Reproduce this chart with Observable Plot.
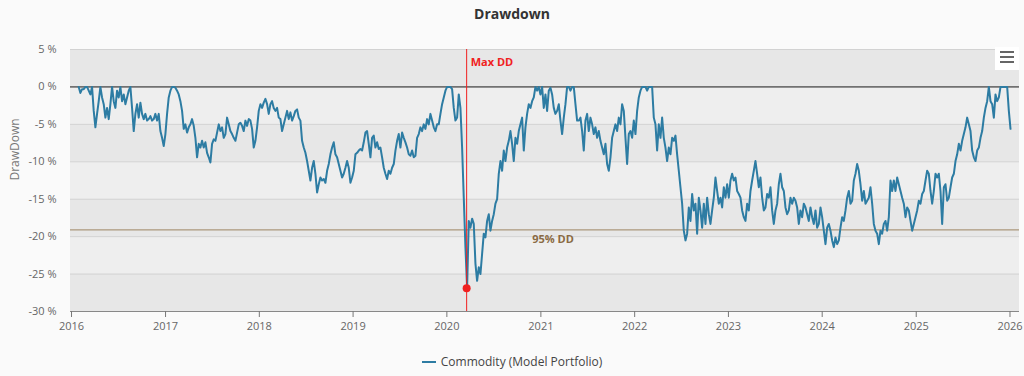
<!DOCTYPE html>
<html>
<head>
<meta charset="utf-8">
<script src="https://cdn.jsdelivr.net/npm/d3@7"></script>
<script src="https://cdn.jsdelivr.net/npm/@observablehq/plot@0.6"></script>
<style>
  html, body { margin: 0; padding: 0; background: #fafafa; }
  #wrap { position: relative; width: 1024px; height: 376px; font-family: "Open Sans", sans-serif; overflow: hidden; }
  #title { position: absolute; left: 0; top: 3px; width: 1024px; text-align: center; font-weight: bold; font-size: 14px; color: #333; line-height: 22px; }
  #chart { position: absolute; left: 0; top: 30px; }
  #legend { position: absolute; left: 0; top: 352px; width: 1024px; display: flex; justify-content: center; align-items: center; font-size: 12px; color: #444; line-height: 20px; }
  #legend .sw { width: 14px; height: 2px; background: #2d7ca3; margin-right: 5px; }
  #menu { position: absolute; left: 995px; top: 47px; width: 24px; height: 23px; background: #fff; }
  #menu span { position: absolute; left: 5px; width: 14px; height: 2px; background: #666; }
</style>
</head>
<body>
<div id="wrap">
  <div id="title">Drawdown</div>
  <div id="chart"></div>
  <div id="legend"><div class="sw"></div><div>Commodity (Model Portfolio)</div></div>
  <div id="menu"><span style="top:4px"></span><span style="top:9px"></span><span style="top:14px"></span></div>
</div>
<script>
// Drawdown readings (%), evenly spaced samples between firstDate and lastDate
const ddValues = [
  0, -0.8, -0.3, -0.3, 0, 0, -0.5, -1.0, 0, -3.2,
  -5.4, -3.6, -1.9, 0, -1.4, -2.3, -4.1, -2.8, -4.3, -2.3,
  0, -1.9, -2.8, -0.5, -1.4, 0, -1.9, -1.0, -2.3, -1.4,
  -0.5, 0, -2.8, -5.9, -3.6, -2.3, -4.1, -2.1, -3.6, -4.3,
  -3.6, -4.5, -4.3, -3.9, -4.5, -4.3, -3.6, -4.5, -3.6, -5.9,
  -6.8, -7.9, -6.3, -3.6, -1.4, -0.5, 0, 0, -0.1, -0.5,
  -1.0, -1.9, -3.2, -5.6, -5.0, -6.1, -5.4, -5.0, -4.3, -5.2,
  -6.8, -9.4, -7.6, -8.1, -7.2, -8.1, -7.4, -8.8, -9.4, -10.1,
  -7.6, -7.0, -7.2, -6.1, -5.0, -5.9, -5.4, -6.8, -6.3, -4.1,
  -5.0, -5.9, -6.3, -6.8, -7.2, -6.1, -5.0, -4.8, -5.2, -5.9,
  -4.5, -5.2, -4.3, -4.5, -5.6, -8.1, -7.2, -5.4, -3.2, -2.3,
  -2.8, -2.1, -1.6, -2.3, -3.6, -2.3, -1.9, -2.8, -3.2, -2.8,
  -4.1, -4.3, -5.9, -5.0, -4.1, -3.2, -4.3, -3.4, -4.5, -3.9,
  -3.2, -3.0, -4.1, -4.5, -7.2, -8.1, -8.8, -9.9, -11.2, -12.5,
  -10.8, -9.9, -11.6, -14.1, -13.0, -12.1, -12.5, -12.3, -12.8, -11.2,
  -10.3, -9.0, -8.1, -7.4, -9.0, -9.4, -10.3, -11.2, -12.1, -11.6,
  -10.8, -9.9, -10.8, -12.8, -12.1, -11.2, -9.0, -8.8, -8.5, -8.3,
  -8.5, -7.4, -6.1, -5.9, -7.6, -9.4, -6.8, -6.5, -8.1, -7.4,
  -8.3,
  -8.1, -9.4, -10.8, -11.6, -12.3, -11.2, -11.6, -10.8, -10.3, -8.5,
  -7.2, -6.3, -8.1, -6.1, -6.8, -7.4, -8.1, -9.0, -9.2, -8.5,
  -9.4, -9.2, -6.8, -6.3, -5.4, -5.9, -5.0, -5.6, -4.3, -5.0,
  -3.6, -4.5, -5.4, -5.9, -5.0, -5.0, -3.6, -2.3, -1.4, -0.5,
  0, 0, 0, -0.3, -2.8, -4.5, -4.1, -1.0,
  -2.8, -8.1, -14.8, -21.4, -26.9, -17.9, -18.8, -17.6, -18.3, -23.6,
  -25.9, -24.1, -25.0, -22.3, -19.6, -20.1, -17.9, -17.0, -19.2, -17.9,
  -17.0, -15.6, -15.0, -11.6, -9.9, -11.2, -8.5, -9.9, -8.1, -7.2,
  -5.9, -7.6, -9.9, -6.8, -7.6, -5.9, -5.0, -4.1, -8.5, -5.4,
  -3.6, -2.3, -2.8, -1.9, -1.4, 0, -0.5, 0, -1.0, 0,
  -2.8, -1.0, -3.2, -0.5, -0.1, -1.0, -2.8, -3.6,
  -3.2, -2.3, -4.5, -6.3, -4.1, -2.3, 0, 0, -0.5, 0,
  0, -2.3, -4.5, -4.5, -4.1, -5.9, -8.5, -4.5, -3.6, -5.9,
  -4.1, -5.0, -6.3, -5.4, -6.8, -5.9, -7.2, -8.1, -9.0, -7.6,
  -10.3, -11.2, -9.4, -6.8, -5.9, -5.0, -5.9, -4.1, -5.0, -2.3,
  -3.2, -6.8, -10.3, -6.3, -5.9, -6.8, -4.5, -6.3, -3.2, -1.4,
  -0.5, 0, 0, 0, -0.5, 0, 0, 0, -4.1, -5.0,
  -8.5, -5.0, -6.8,
  -4.1, -6.8, -8.1, -9.9, -8.1, -9.0, -6.8, -7.2, -6.5, -9.0,
  -11.2, -13.4, -15.6, -19.2, -20.5, -19.6, -16.1, -17.9, -14.3, -16.5,
  -15.6, -19.6, -14.8, -16.5, -18.8, -15.6, -18.3, -14.8, -17.0, -18.3,
  -16.5, -14.8, -12.1, -13.9, -15.6, -14.8, -16.1, -13.4, -14.8, -13.0,
  -14.8, -12.5, -11.6, -12.5, -12.1, -13.9, -14.3, -14.8, -16.5, -17.4,
  -17.9, -15.6, -16.5, -13.9, -12.5, -11.2, -9.9, -11.6, -13.4, -12.1,
  -14.8, -16.5, -16.1, -14.3, -14.8, -13.4, -16.5, -18.3, -16.5, -15.6,
  -13.0, -11.6, -13.4, -13.9, -16.1, -17.0, -16.5, -14.8, -15.6, -14.8,
  -15.2, -16.1, -18.3, -16.5, -17.4, -15.6, -16.1, -17.0, -17.9, -16.1,
  -17.4, -18.3, -16.5, -18.8, -18.3, -16.1, -17.4, -19.2, -21.0, -18.8,
  -18.3, -19.2, -20.5, -21.4, -20.1, -21.0, -20.5, -18.8, -17.4, -17.9,
  -16.5, -14.8, -13.9, -15.6, -15.2, -12.5, -11.6, -10.3, -11.2, -13.0,
  -15.2, -13.9, -15.6, -15.2, -14.8, -13.4, -15.6, -18.3, -19.2, -19.6,
  -21.0, -19.2, -19.6, -18.3, -17.9, -19.2, -17.4, -12.5, -13.9, -12.5,
  -13.9, -12.1, -13.0, -13.9, -14.8, -15.6, -17.4, -16.1, -16.5, -17.9,
  -19.2, -18.3, -17.4, -16.5, -15.2, -15.6, -14.3, -13.9, -12.5, -11.2,
  -11.6, -13.9, -15.6, -13.9, -11.6, -12.1, -11.6, -13.9, -18.3, -13.4,
  -13.0, -15.2, -14.8, -13.4, -12.1, -11.6, -9.9, -9.0, -7.6, -8.5,
  -7.2, -6.3, -5.4, -4.1, -5.0, -5.9, -8.5, -9.4, -9.9, -8.5,
  -8.1, -6.8, -5.9, -4.1, -2.8, -1.9, 0, -1.9, -2.3, -4.1,
  -1.0, -1.9, -1.4, 0, 0, 0, 0, 0, -3.2, -5.6
];
const firstDate = "2016-01-29";
const lastDate = "2026-01-03";

const seriesName = "Commodity (Model Portfolio)";
const maxDDDate = "2020-03-18";
const maxDDValue = -26.9;
const dd95Value = -19.1;
const dd95LabelDate = "2020-11-28";

const yTicks = [5, 0, -5, -10, -15, -20, -25, -30];
const xTickYears = [2016, 2017, 2018, 2019, 2020, 2021, 2022, 2023, 2024, 2025, 2026];
const xDomain = ["2015-12-28", "2026-02-07"];

// build table
const t0 = new Date(firstDate), t1 = new Date(lastDate);
const n = ddValues.length;
const series = ddValues.map((v, i) => ({date: new Date(+t0 + (t1 - t0) * i / (n - 1)), dd: v}));
const xTicks = xTickYears.map(y => new Date(Date.UTC(y, 0, 1)));
const bands = d3.pairs(yTicks).map(([a, b], i) => ({top: a, bottom: b, dark: i % 2 === 0}));
const xd = xDomain.map(d => new Date(d));

const lineColor = "#2d7ca3";
const red = "#f02020";

const chart = Plot.plot({
  width: 1024,
  height: 311,
  marginTop: 19,
  marginBottom: 30,
  marginLeft: 70,
  marginRight: 5,
  style: {fontFamily: "'Open Sans', sans-serif", fontSize: "11px", color: "#666", background: "transparent", overflow: "visible"},
  x: {type: "utc", domain: xd},
  y: {domain: [-30, 5]},
  marks: [
    Plot.rect(bands, {x1: () => xd[0], x2: () => xd[1], y1: "top", y2: "bottom", fill: d => d.dark ? "#e7e7e7" : "#eeeeee"}),
    Plot.ruleY(yTicks, {stroke: "#d2d2d2", strokeWidth: 1}),
    Plot.ruleY([0], {stroke: "#222", strokeWidth: 1}),
    Plot.ruleY([dd95Value], {stroke: "#9c8462", strokeWidth: 1}),
    Plot.ruleY([-30], {stroke: "#888", strokeWidth: 1}),
    Plot.axisX({ticks: xTicks, tickFormat: d3.utcFormat("%Y"), tickSize: 6, tickPadding: 5, stroke: "#777", fill: "#666", label: null}),
    Plot.axisY({ticks: yTicks, tickSize: 0, tickPadding: 14, tickFormat: d => `${d} %`, fill: "#666", label: null}),
    Plot.text([seriesName].map(() => "DrawDown"), {frameAnchor: "left", dx: -55, rotate: -90, text: d => d, fill: "#777", fontSize: 12}),
    Plot.lineY(series, {x: "date", y: "dd", stroke: lineColor, strokeWidth: 2, curve: "linear"}),
    Plot.ruleX([new Date(maxDDDate)], {stroke: red, strokeWidth: 1}),
    Plot.dot([{date: new Date(maxDDDate), dd: maxDDValue}], {x: "date", y: "dd", r: 4, fill: red, stroke: "none"}),
    Plot.text(["Max DD"], {x: () => new Date(maxDDDate), frameAnchor: "top", dy: 9, dx: 4, textAnchor: "start", text: d => d, fill: red, fontWeight: "bold", fontSize: 11}),
    Plot.text(["95% DD"], {x: () => new Date(dd95LabelDate), y: () => dd95Value, dy: 10, textAnchor: "start", text: d => d, fill: "#8a6a44", fontWeight: "bold", fontSize: 11})
  ]
});
document.getElementById("chart").appendChild(chart);
</script>
</body>
</html>
